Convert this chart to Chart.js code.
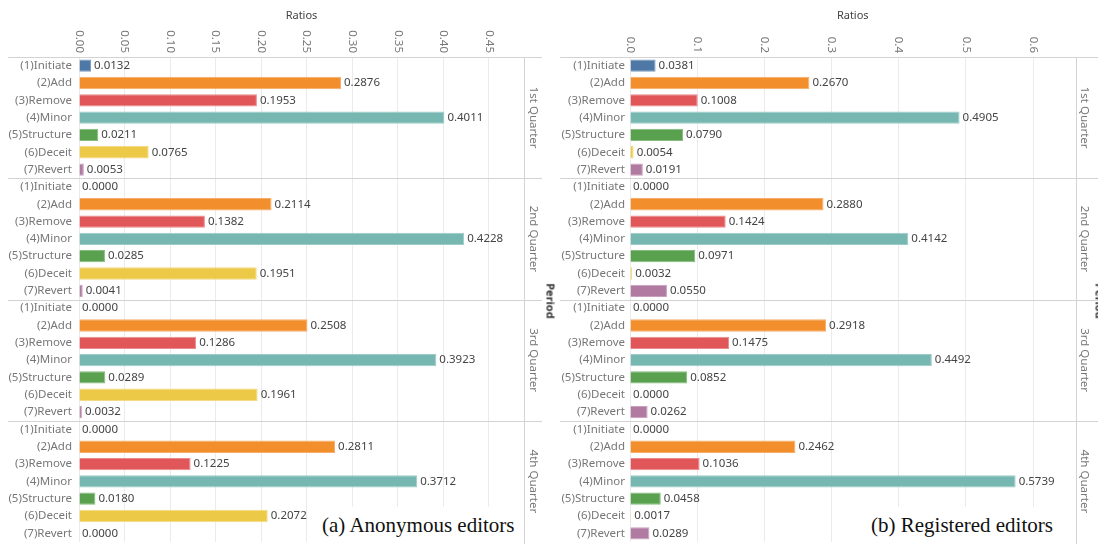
<!DOCTYPE html>
<html>
<head>
<meta charset="utf-8">
<script src="https://cdn.jsdelivr.net/npm/chart.js@4.4.1/dist/chart.umd.min.js"></script>
<style>
  html, body { margin: 0; padding: 0; background: #fff; }
  #wrap { position: relative; width: 1098px; height: 544px; overflow: hidden; background: #fff; }
  #wrap canvas { position: absolute; top: 0; }
  #cA { left: 0; }
  #cB { left: 549px; }
  .cap { position: absolute; background: #fff; }
  .cap span { position: absolute; left: 6px; top: 8px; line-height: 21px; white-space: nowrap;
              font-family: "Liberation Serif", "Times New Roman", serif; font-size: 21px; color: #111; }
  .period { position: absolute; transform: translate(-50%, -50%) rotate(90deg); white-space: nowrap;
            font: bold 11px "Noto Sans", sans-serif; color: #333; }
</style>
</head>
<body>
<div id="wrap">
  <canvas id="cA" width="549" height="544"></canvas>
  <canvas id="cB" width="549" height="544"></canvas>
  <div class="period" style="left:551px; top:301px;">Period</div>
  <div class="period" style="left:1100px; top:301px;">Period</div>
  <div class="cap" style="left:316px; top:507px; width:206px; height:37px;"><span>(a) Anonymous editors</span></div>
  <div class="cap" style="left:865px; top:507px; width:197px; height:37px;"><span>(b) Registered editors</span></div>
</div>
<script>
// Edit types and reporting periods
const categories = ['(1)Initiate', '(2)Add', '(3)Remove', '(4)Minor', '(5)Structure', '(6)Deceit', '(7)Revert'];
const periods = ['1st Quarter', '2nd Quarter', '3rd Quarter', '4th Quarter'];

// Ratios of edit types, anonymous editors
const anonQ1 = [0.0132, 0.2876, 0.1953, 0.4011, 0.0211, 0.0765, 0.0053];
const anonQ2 = [0.0000, 0.2114, 0.1382, 0.4228, 0.0285, 0.1951, 0.0041];
const anonQ3 = [0.0000, 0.2508, 0.1286, 0.3923, 0.0289, 0.1961, 0.0032];
const anonQ4 = [0.0000, 0.2811, 0.1225, 0.3712, 0.0180, 0.2072, 0.0000];

// Ratios of edit types, registered editors
const regQ1 = [0.0381, 0.2670, 0.1008, 0.4905, 0.0790, 0.0054, 0.0191];
const regQ2 = [0.0000, 0.2880, 0.1424, 0.4142, 0.0971, 0.0032, 0.0550];
const regQ3 = [0.0000, 0.2918, 0.1475, 0.4492, 0.0852, 0.0000, 0.0262];
const regQ4 = [0.0000, 0.2462, 0.1036, 0.5739, 0.0458, 0.0017, 0.0289];

// Ratio axis ticks
const ratioTicksAnon = [0.00, 0.05, 0.10, 0.15, 0.20, 0.25, 0.30, 0.35, 0.40, 0.45];
const ratioTicksReg = [0.0, 0.1, 0.2, 0.3, 0.4, 0.5, 0.6];

const barFill = ['#4e79a7', '#f28e2b', '#e15759', '#76b7b2', '#59a14f', '#edc948', '#b07aa1'];
const barEdge = ['#7c9cc0', '#f6ad69', '#eb8a8b', '#9dcbc7', '#86bc7e', '#f3d97f', '#c8a0bd'];

const FONT = '"Noto Sans", sans-serif';
const SEP = '#d3d3d3';

const panelDecor = {
  id: 'panelDecor',
  afterDraw(chart, _args, o) {
    const { ctx, chartArea: a, scales: { x, y } } = chart;
    const rowH = y.getPixelForValue(1) - y.getPixelForValue(0);
    const bounds = periods.map((_, q) => y.getPixelForValue(q * categories.length) - rowH / 2);
    bounds.push(a.bottom);
    ctx.save();
    ctx.strokeStyle = SEP;
    ctx.lineWidth = 1;
    // quarter separators
    for (let q = 0; q < periods.length; q++) {
      const yy = Math.round(bounds[q]) + 0.5;
      ctx.beginPath(); ctx.moveTo(o.lineFrom, yy); ctx.lineTo(o.lineTo, yy); ctx.stroke();
    }
    // border between plot and period column
    const xr = Math.round(a.right) + 0.5;
    ctx.beginPath(); ctx.moveTo(xr, Math.round(bounds[0])); ctx.lineTo(xr, chart.height); ctx.stroke();

    // period headers
    ctx.fillStyle = '#777';
    ctx.font = '11.5px ' + FONT;
    ctx.textAlign = 'center';
    ctx.textBaseline = 'middle';
    periods.forEach((p, q) => {
      ctx.save();
      ctx.translate(a.right + o.periodDx, (bounds[q] + bounds[q + 1]) / 2);
      ctx.rotate(Math.PI / 2);
      ctx.fillText(p, 0, 0);
      ctx.restore();
    });

    // ratio tick labels, rotated clockwise
    ctx.textAlign = 'right';
    x.ticks.forEach(t => {
      ctx.save();
      ctx.translate(x.getPixelForValue(t.value), a.top - 4);
      ctx.rotate(Math.PI / 2);
      ctx.fillText(t.value.toFixed(o.decimals), 0, 0);
      ctx.restore();
    });

    // value labels at bar ends
    const meta = chart.getDatasetMeta(0);
    const vals = chart.data.datasets[0].data;
    ctx.fillStyle = '#444';
    ctx.font = '11.5px ' + FONT;
    ctx.textAlign = 'left';
    meta.data.forEach((bar, i) => {
      ctx.fillText(vals[i].toFixed(4), bar.x + 3, bar.y);
    });
    ctx.restore();
  }
};

function makePanel(id, quarters, tickValues, decimals, xMax, axisWidth, labelPad, rightPad, lineFrom, lineTo) {
  const labels = [];
  const values = [];
  const fills = [];
  const edges = [];
  quarters.forEach(q => {
    q.forEach((v, i) => {
      labels.push(categories[i]);
      values.push(v);
      fills.push(barFill[i]);
      edges.push(barEdge[i]);
    });
  });
  return new Chart(document.getElementById(id), {
    type: 'bar',
    data: {
      labels: labels,
      datasets: [{
        data: values,
        backgroundColor: fills,
        borderColor: edges,
        borderWidth: 1,
        barPercentage: 0.71,
        categoryPercentage: 1.0
      }]
    },
    options: {
      indexAxis: 'y',
      responsive: false,
      animation: false,
      devicePixelRatio: 1,
      layout: { padding: { left: 0, top: 0, right: rightPad, bottom: 2 } },
      plugins: {
        legend: { display: false },
        tooltip: { enabled: false },
        panelDecor: { decimals: decimals, periodDx: 9, lineFrom: lineFrom, lineTo: lineTo }
      },
      scales: {
        x: {
          type: 'linear',
          position: 'top',
          min: 0,
          max: xMax,
          afterBuildTicks: s => { s.ticks = tickValues.map(v => ({ value: v })); },
          afterFit: s => { s.height = 57; s.paddingLeft = 0; s.paddingRight = 0; },
          ticks: { display: false },
          grid: { color: '#ebebeb', lineWidth: 1, drawTicks: false },
          border: { display: false },
          title: {
            display: true, text: 'Ratios', color: '#444',
            font: { family: FONT, size: 11 },
            padding: { top: 9, bottom: 0 }
          }
        },
        y: {
          type: 'category',
          offset: true,
          afterFit: s => { s.width = axisWidth; s.paddingTop = 0; s.paddingBottom = 0; },
          grid: { display: false, drawTicks: false },
          border: { display: false },
          ticks: {
            autoSkip: false,
            color: '#777',
            padding: labelPad,
            font: { family: FONT, size: 11.5 }
          }
        }
      }
    },
    plugins: [panelDecor]
  });
}

makePanel('cA', [anonQ1, anonQ2, anonQ3, anonQ4], ratioTicksAnon, 2, 0.4885, 79, 7, 25, 8, 542);
makePanel('cB', [regQ1, regQ2, regQ3, regQ4], ratioTicksReg, 1, 0.663, 81, 5, 22.5, 11, 549);
</script>
</body>
</html>
